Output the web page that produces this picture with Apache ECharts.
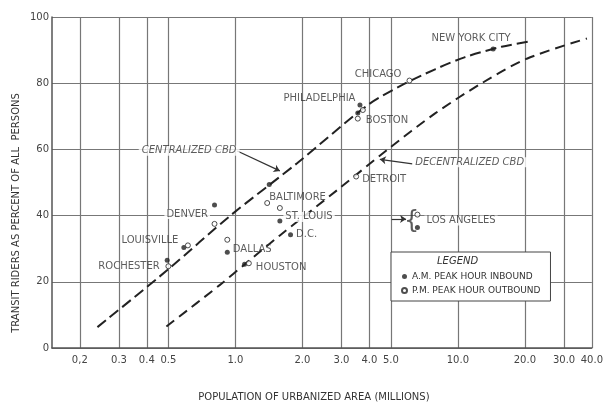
<!DOCTYPE html>
<html><head><meta charset="utf-8">
<script src="https://cdn.jsdelivr.net/npm/echarts@6/dist/echarts.min.js"></script>
<style>html,body{margin:0;padding:0;background:#fff}#c{width:606px;height:407px}</style>
</head><body><div id="c"></div>
<script>
// ---- data ----
const xTickValues = [0.2, 0.3, 0.4, 0.5, 1, 2, 3, 4, 5, 10, 20, 30, 40];
const xTickLabels = ['0,2', '0.3', '0.4', '0.5', '1.0', '2.0', '3.0', '4.0', '5.0', '10.0', '20.0', '30.0', '40.0'];

const cities = ['NEW YORK CITY', 'CHICAGO', 'PHILADELPHIA', 'BOSTON', 'DETROIT', 'BALTIMORE', 'ST. LOUIS', 'D.C.', 'LOS ANGELES', 'DENVER', 'DALLAS', 'HOUSTON', 'LOUISVILLE', 'ROCHESTER'];
const amPop = [14.4, null, 3.63, 3.55, null, 1.42, 1.585, 1.77, 6.58, 0.806, 0.92, 1.10, 0.587, 0.494];
const amPct = [90.3, null, 73.4, 71.0, null, 49.4, 38.4, 34.2, 36.4, 43.2, 28.9, 25.3, 30.4, 26.5];
const pmPop = [null, 6.06, 3.74, 3.55, 3.49, 1.39, 1.585, null, 6.58, 0.806, 0.92, 1.15, 0.612, 0.50];
const pmPct = [null, 80.8, 71.9, 69.3, 51.8, 43.8, 42.3, null, 40.3, 37.5, 32.7, 25.6, 31.0, 24.7];

const centralPop = [0.24, 0.5, 0.95, 1.9, 3.9, 5.6, 7.9, 10.7, 15.7, 21];
const centralPct = [6.3, 23.8, 40, 55.9, 73.2, 79.4, 84.2, 87.8, 91.0, 92.6];
const decentPop = [0.49, 0.85, 1.13, 1.585, 2.93, 4.88, 7.87, 12.8, 20.4, 38];
const decentPct = [6.5, 19.0, 25.9, 34.0, 48.2, 60.2, 70.8, 80.0, 87.4, 93.5];

const seriesNames = ['A.M. PEAK HOUR INBOUND', 'P.M. PEAK HOUR OUTBOUND'];

// ---- label placement (presentation only) ----
const labelLayout = {
  'NEW YORK CITY': {on: 'am', position: 'top', distance: 3, offset: [-22, 0]},
  'CHICAGO': {on: 'pm', position: 'left', distance: 5, offset: [0, -6]},
  'PHILADELPHIA': {on: 'am', position: 'left', distance: 2, offset: [0, -7]},
  'BOSTON': {on: 'pm', position: 'right', distance: 5, offset: [0, 2]},
  'DETROIT': {on: 'pm', position: 'right', distance: 3, offset: [0, 3]},
  'BALTIMORE': {on: 'pm', position: 'right', distance: 2, offset: [-3, -6]},
  'ST. LOUIS': {on: 'am', position: 'right', distance: 1, offset: [0, -4], bg: true},
  'D.C.': {on: 'am', position: 'right', distance: 3, offset: [0, 0]},
  'LOS ANGELES': {on: 'pm', position: 'right', distance: 4, offset: [0, 6], bg: true},
  'DENVER': {on: 'am', position: 'left', distance: 2, offset: [0, 9], bg: true},
  'DALLAS': {on: 'am', position: 'right', distance: 3, offset: [0, -3]},
  'HOUSTON': {on: 'pm', position: 'right', distance: 4, offset: [0, 4]},
  'LOUISVILLE': {on: 'am', position: 'left', distance: 3, offset: [0, -7]},
  'ROCHESTER': {on: 'am', position: 'left', distance: 5, offset: [0, 6]}
};

const notes = [
  {text: 'CENTRALIZED CBD', at: [0.62, 59.6], style: 'italic', size: 10, bg: true},
  {text: 'DECENTRALIZED CBD', at: [11.3, 56.1], style: 'italic', size: 10, bg: true},
  {text: '{', at: [6.2, 38.2], style: 'normal', size: 24, bg: false}
];
const leaders = [
  {from: [1.02, 59.5], to: [1.585, 53.5], curve: 0.3, arrow: true},
  {from: [6.25, 55.6], to: [4.46, 57.0], curve: 0.2, arrow: true},
  {from: [5.04, 39.0], to: [5.85, 39.0], curve: 0, arrow: true}
];

const FONT = 'DejaVu Sans';
const TXT = '#333';

function pointSeriesData(popArr, pctArr, key) {
  const out = [];
  cities.forEach((c, i) => {
    if (popArr[i] == null) return;
    const item = {name: c, value: [popArr[i], pctArr[i]]};
    const L = labelLayout[c];
    if (L && L.on === key) {
      item.label = {
        show: true, formatter: c, position: L.position, distance: L.distance, offset: L.offset,
        backgroundColor: L.bg ? '#fff' : 'transparent', padding: L.bg ? [0, 2] : 0
      };
    }
    out.push(item);
  });
  return out;
}

const chart = echarts.init(document.getElementById('c'), null, {renderer: 'canvas'});
const option = {
  animation: false,
  backgroundColor: '#fff',
  textStyle: {fontFamily: FONT, color: TXT},
  grid: {left: 52, right: 8, top: 17, bottom: 53},
  title: {text: 'LEGEND', left: 437, top: 256, padding: 0,
    textStyle: {fontSize: 10, fontStyle: 'italic', fontWeight: 'normal', color: TXT, fontFamily: FONT}},
  legend: {
    data: seriesNames, orient: 'vertical', left: 391, top: 252,
    padding: [20, 10, 6, 10], itemGap: 5, itemWidth: 5, itemHeight: 5, icon: 'circle',
    borderColor: '#444', borderWidth: 1, backgroundColor: '#fff',
    textStyle: {fontSize: 9, color: TXT, fontFamily: FONT}
  },
  xAxis: {
    type: 'log', logBase: 10, min: 0.15, max: 40,
    name: 'POPULATION OF URBANIZED AREA (MILLIONS)', nameLocation: 'middle', nameGap: 44,
    nameTextStyle: {fontSize: 10, color: TXT, fontFamily: FONT, padding: [0, 16, 0, 0]},
    axisLine: {lineStyle: {color: '#555', width: 1.5}},
    axisTick: {show: false, customValues: xTickValues},
    axisLabel: {customValues: xTickValues, fontSize: 10, color: '#444', margin: 7,
      formatter: v => { const i = xTickValues.findIndex(t => Math.abs(t - v) < 1e-6); return i >= 0 ? xTickLabels[i] : ''; }},
    splitLine: {show: true, lineStyle: {color: '#777', width: 1.2}}
  },
  yAxis: {
    type: 'value', min: 0, max: 100, interval: 20,
    axisLine: {show: true, lineStyle: {color: '#555', width: 1.5}},
    axisTick: {show: false},
    axisLabel: {fontSize: 10, color: '#444', margin: 3},
    splitLine: {show: true, lineStyle: {color: '#777', width: 1.2}}
  },
  graphic: [{
    type: 'text', x: 16, y: 213, rotation: Math.PI / 2,
    style: {text: 'TRANSIT RIDERS AS PERCENT OF ALL  PERSONS', fill: TXT, font: '10px "DejaVu Sans"',
      textAlign: 'center', textVerticalAlign: 'middle'}
  }],
  series: [
    {name: 'CENTRALIZED CBD', type: 'line', smooth: 0.3, showSymbol: false, z: 3,
      data: centralPop.map((x, i) => [x, centralPct[i]]),
      lineStyle: {color: '#222', width: 2, type: [11, 5]}},
    {name: 'DECENTRALIZED CBD', type: 'line', smooth: 0.3, showSymbol: false, z: 3,
      data: decentPop.map((x, i) => [x, decentPct[i]]),
      lineStyle: {color: '#222', width: 2, type: [10, 6]}},
    {name: seriesNames[0], type: 'scatter', symbol: 'circle', symbolSize: 5, z: 5,
      itemStyle: {color: '#222'},
      label: {fontSize: 10, color: TXT, fontFamily: FONT},
      data: pointSeriesData(amPop, amPct, 'am')},
    {name: seriesNames[1], type: 'scatter', symbol: 'circle', symbolSize: 5, z: 5,
      itemStyle: {color: '#fff', borderColor: '#222', borderWidth: 1},
      label: {fontSize: 10, color: TXT, fontFamily: FONT},
      data: pointSeriesData(pmPop, pmPct, 'pm')},
    {name: 'notes', type: 'scatter', symbolSize: 0, z: 6, silent: true,
      data: notes.map(n => ({value: n.at, label: {show: true, position: 'inside', formatter: n.text,
        fontSize: n.size, fontStyle: n.style, color: TXT, fontFamily: FONT,
        backgroundColor: n.bg ? '#fff' : 'transparent', padding: n.bg ? [0, 3] : 0}})),
      markLine: {silent: true, symbol: ['none', 'arrow'], symbolSize: 6, label: {show: false},
        lineStyle: {color: '#333', width: 1.2, type: 'solid'},
        data: leaders.map(l => [{coord: l.from, lineStyle: {curveness: l.curve}}, {coord: l.to}])}
    }
  ]
};
chart.setOption(option);
</script></body></html>
